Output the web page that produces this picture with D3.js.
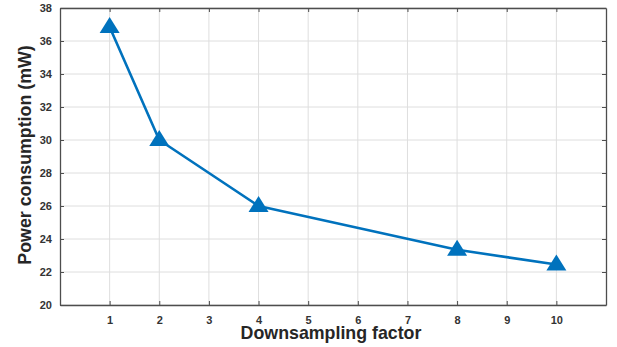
<!DOCTYPE html>
<html>
<head>
<meta charset="utf-8">
<script src="https://cdn.jsdelivr.net/npm/d3@7"></script>
<style>
  body { margin: 0; background: #fff; }
  svg { display: block; }
  text { font-family: "Liberation Sans", Arial, sans-serif; font-weight: bold; }
</style>
</head>
<body>
<div id="chart"></div>
<script>
// downsampling factor vs power consumption
const factors = [1, 2, 4, 8, 10];
const power = [36.85, 30.0, 26.0, 23.35, 22.45];
const xTicks = [1, 2, 3, 4, 5, 6, 7, 8, 9, 10];
const yTicks = [20, 22, 24, 26, 28, 30, 32, 34, 36, 38];

const width = 617, height = 347;
const margin = { top: 8, right: 11, bottom: 42, left: 60 };
const w = width - margin.left - margin.right;
const h = height - margin.top - margin.bottom;

const svg = d3.select('#chart')
  .append('svg')
  .attr('width', width)
  .attr('height', height);

const g = svg.append('g')
  .attr('transform', 'translate(' + margin.left + ',' + margin.top + ')');

const x = d3.scaleLinear().domain([0, 11]).range([0, w]);
const y = d3.scaleLinear().domain([20, 38]).range([h, 0]);

// grid
g.append('g').selectAll('line')
  .data(xTicks)
  .enter().append('line')
  .attr('x1', d => x(d)).attr('x2', d => x(d))
  .attr('y1', 0).attr('y2', h)
  .attr('stroke', '#dedede').attr('stroke-width', 1);

g.append('g').selectAll('line')
  .data(yTicks)
  .enter().append('line')
  .attr('x1', 0).attr('x2', w)
  .attr('y1', d => y(d)).attr('y2', d => y(d))
  .attr('stroke', '#dedede').attr('stroke-width', 1);

// axes, ticks pointing inward
const axisColor = '#4d4d4d';
const axBottom = g.append('g')
  .attr('transform', 'translate(0,' + h + ')')
  .call(d3.axisBottom(x).tickValues(xTicks).tickSize(-4).tickPadding(11).tickSizeOuter(0));
const axLeft = g.append('g')
  .call(d3.axisLeft(y).tickValues(yTicks).tickSize(-4).tickPadding(8).tickSizeOuter(0));
const axTop = g.append('g')
  .call(d3.axisTop(x).tickValues(xTicks).tickSize(-4).tickFormat('').tickSizeOuter(0));
const axRight = g.append('g')
  .attr('transform', 'translate(' + w + ',0)')
  .call(d3.axisRight(y).tickValues(yTicks).tickSize(-4).tickFormat('').tickSizeOuter(0));

[axBottom, axLeft, axTop, axRight].forEach(a => {
  a.select('.domain').attr('stroke', axisColor).attr('stroke-width', 1.3);
  a.selectAll('.tick line').attr('stroke', axisColor);
  a.selectAll('.tick text')
    .attr('fill', '#333')
    .style('font-size', '11px')
    .style('font-weight', 'bold')
    .style('font-family', '"Liberation Sans", Arial, sans-serif');
});

// line
g.append('path')
  .datum(factors.map((f, i) => [f, power[i]]))
  .attr('fill', 'none')
  .attr('stroke', '#0072BD')
  .attr('stroke-width', 2.6)
  .attr('stroke-linejoin', 'round')
  .attr('d', d3.line().x(d => x(d[0])).y(d => y(d[1])));

// triangle markers
const tri = 'M0,-9 L10,7 L-10,7 Z';
g.selectAll('.marker')
  .data(factors.map((f, i) => [f, power[i]]))
  .enter().append('path')
  .attr('class', 'marker')
  .attr('d', tri)
  .attr('transform', d => 'translate(' + x(d[0]) + ',' + (y(d[1]) - 1) + ')')
  .attr('fill', '#0072BD');

// labels
svg.append('text')
  .attr('x', margin.left + x(5.5) - 2)
  .attr('y', 339)
  .attr('text-anchor', 'middle')
  .attr('fill', '#262626')
  .style('font-size', '17.8px')
  .text('Downsampling factor');

svg.append('text')
  .attr('transform', 'translate(31,' + 155 + ') rotate(-90)')
  .attr('text-anchor', 'middle')
  .attr('fill', '#262626')
  .style('font-size', '17.8px')
  .text('Power consumption (mW)');
</script>
</body>
</html>
